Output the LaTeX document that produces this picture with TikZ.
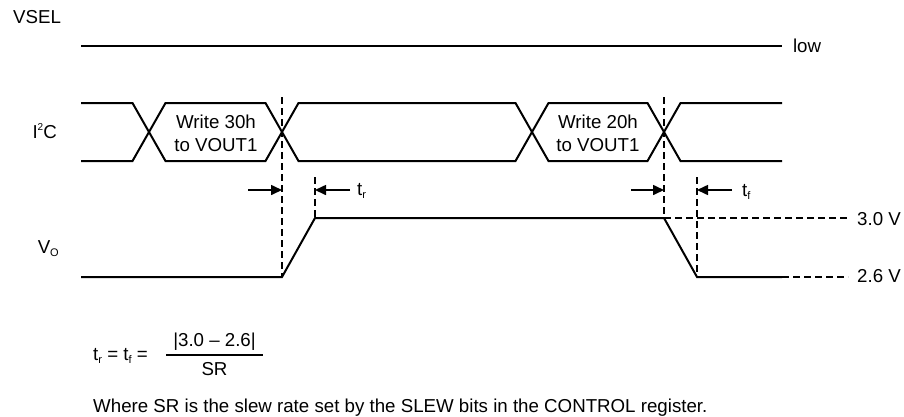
\documentclass[tikz,border=0pt]{standalone}
\usepackage{fontspec}
\setmainfont{Liberation Sans}
\usetikzlibrary{arrows.meta}
\newcommand{\hiidx}[1]{\raisebox{0.42em}{\fontsize{10}{10}\selectfont #1}}
\newcommand{\loidx}[1]{\raisebox{-0.18em}{\fontsize{11}{11}\selectfont #1}}

\begin{document}
\begin{tikzpicture}[x=1pt,y=-1pt,
 wave/.style={line width=2pt,line join=miter},
 guide/.style={line width=1.2pt,dash pattern=on 7pt off 4pt},
 marker/.style={line width=1.6pt,-{Triangle[length=11pt,width=10pt]}},
 lbl/.style={anchor=base west,inner sep=0pt,font=\fontsize{18.7}{23.3}\selectfont}]
 \useasboundingbox (0,0) rectangle (904,416);

 % signal names
 \node [lbl] (S1) at (13,23.5) {VSEL};
 \node [lbl,anchor=base east] (S2) at (57,138.5) {I\hiidx{2}C};
 \node [lbl,anchor=base east] (S3) at (59,253.5) {V\loidx{O}};

 % VSEL
 \draw [wave] (81,46) -- (782,46) node (L1) [lbl,anchor=west,xshift=10pt] {low};

 % I2C bus
 \draw [wave] (81,103) -- (132.5,103) -- (165.5,161) -- (265.5,161) -- (298.5,103)
   -- (515.5,103) -- (548.5,161) -- (647.5,161) -- (680.5,103) -- (782,103);
 \draw [wave] (81,161) -- (132.5,161) -- (165.5,103) -- (265.5,103) -- (298.5,161)
   -- (515.5,161) -- (548.5,103) -- (647.5,103) -- (680.5,161) -- (782,161);
 \node [lbl,anchor=center,align=center] (W1) at (216,133) {Write 30h\\to VOUT1};
 \node [lbl,anchor=center,align=center] (W2) at (598,133) {Write 20h\\to VOUT1};

 % output voltage
 \draw [wave] (81,277) -- (282,277) -- (315,218) -- (664,218) -- (697,277) -- (782,277);
 \draw [guide] (664,218) -- (848,218);
 \draw [guide] (782,277) -- (848,277);
 \node [lbl] (U1) at (857,225) {3.0 V};
 \node [lbl] (U2) at (857,282.5) {2.6 V};

 % timing guides
 \draw [guide] (282,97) -- (282,277);
 \draw [guide] (315,177) -- (315,218);
 \draw [guide] (664,97) -- (664,218);
 \draw [guide] (697,177) -- (697,277);

 \coordinate (A1) at (248,190);
 \coordinate (A2) at (282,190);
 \coordinate (A3) at (350,190);
 \coordinate (A4) at (315,190);
 \coordinate (B1) at (631,190);
 \coordinate (B2) at (664,190);
 \coordinate (B3) at (732,190);
 \coordinate (B4) at (697,190);
 \draw [marker] (A1) -- (A2);
 \draw [marker] (A3) -- (A4);
 \draw [marker] (B1) -- (B2);
 \draw [marker] (B3) -- (B4);
 \node [lbl] (T1) at (357,195) {t\loidx{r}};
 \node [lbl] (T2) at (742,196) {t\loidx{f}};

 % slew rate formula
 \node [lbl] (F1) at (93,360.5) {t\loidx{r} = t\loidx{f} =};
 \node [lbl,anchor=base] (F2) at (214.5,346) {|3.0 -- 2.6|};
 \node [lbl,anchor=base] (F3) at (214.5,375) {SR};
 \draw [line width=1.8pt] (166,355) -- (263,355);
 \node [lbl] (F4) at (93,412) {Where SR is the slew rate set by the SLEW bits in the CONTROL register.};
\end{tikzpicture}
\end{document}
